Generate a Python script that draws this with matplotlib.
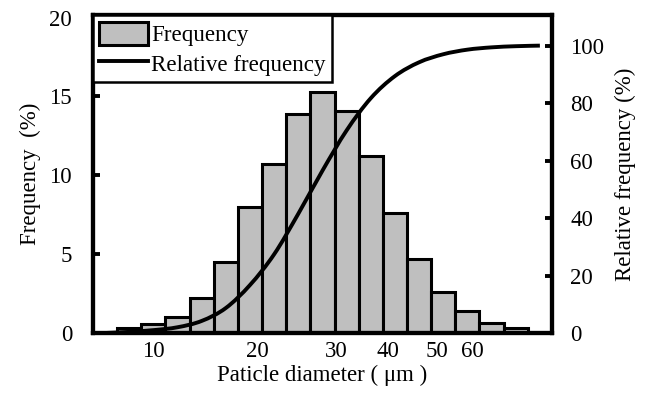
import numpy as np
import matplotlib
matplotlib.use('Agg')
import matplotlib.pyplot as plt
from matplotlib.patches import Patch, PathPatch
from matplotlib.path import Path
from matplotlib.lines import Line2D

# size classes (one bar each)
frequency = [0.0, 0.3, 0.55, 1.0, 2.2, 4.5, 8.0, 10.7, 13.9, 15.3, 14.1,
             11.2, 7.6, 4.7, 2.6, 1.4, 0.65, 0.3, 0.0]
relative_frequency = [0.0, 0.4, 1.0, 2.0, 4.2, 8.7, 16.7, 27.4, 41.5, 56.5,
                      70.5, 81.7, 89.4, 94.2, 97.0, 98.6, 99.4, 99.8, 100.0]
tick_labels = ['10', '20', '30', '40', '50', '60']
tick_pos = [2.02, 6.32, 9.59, 11.69, 13.72, 15.2]

plt.rcParams['font.family'] = ['Liberation Serif', 'DejaVu Serif']


def smooth_path(xs, ys):
    # smoothed line like the spreadsheet one: bezier segments through the points
    pts = np.column_stack([xs, ys]).astype(float)
    verts = [pts[0]]
    codes = [Path.MOVETO]
    for i in range(len(pts) - 1):
        p0 = pts[max(i - 1, 0)]
        p1 = pts[i]
        p2 = pts[i + 1]
        p3 = pts[min(i + 2, len(pts) - 1)]
        verts += [p1 + (p2 - p0) / 6, p2 - (p3 - p1) / 6, p2]
        codes += [Path.CURVE4] * 3
    return Path(verts, codes)


fig = plt.figure(figsize=(6.47, 3.99), dpi=100)
ax = fig.add_axes([0.1437, 0.1654, 0.7094, 0.7966])
ax2 = ax.twinx()

x = np.arange(len(frequency))
ax.bar(x, frequency, width=1.0, color='#bfbfbf', edgecolor='black',
       linewidth=2.2, zorder=2)
ax2.add_patch(PathPatch(smooth_path(x, relative_frequency), fill=False,
                        edgecolor='black', linewidth=2.8, capstyle='butt',
                        zorder=3))

ax.set_xlim(-0.5, 18.5)
ax.set_ylim(0, 20.15)
ax2.set_ylim(0, 110.6)

ax.set_xticks(tick_pos)
ax.set_xticklabels(tick_labels)
ax.set_yticks([0, 5, 10, 15, 20])
ax2.set_yticks([0, 20, 40, 60, 80, 100])

ax.tick_params(axis='x', length=0, pad=6, labelsize=16.5)
ax.tick_params(axis='y', direction='in', length=5, width=2.8, pad=15,
               labelsize=16.5)
ax2.tick_params(axis='y', direction='in', length=5, width=2.8, pad=13,
                labelsize=16.5)

for a in (ax, ax2):
    for s in a.spines.values():
        s.set_linewidth(3.0)

ax.set_xlabel('Paticle diameter ( \u03bcm )', fontsize=16.5, labelpad=2)
ax.set_ylabel('Frequency  (%)', fontsize=16.5, labelpad=6)
ax2.set_ylabel('Relative frequency (%)', fontsize=16.5, labelpad=8)

handles = [Patch(facecolor='#bfbfbf', edgecolor='black', linewidth=2.2),
           Line2D([], [], color='black', linewidth=2.8)]
leg = ax2.legend(handles, ['Frequency', 'Relative frequency'],
                 loc='upper left', bbox_to_anchor=(0, 1), fontsize=16.6,
                 fancybox=False, framealpha=1, edgecolor='black',
                 borderpad=0.28, labelspacing=0.25, handlelength=2.1,
                 handleheight=1.15, handletextpad=0.15, borderaxespad=0)
leg.get_frame().set_linewidth(1.8)

fig.savefig('out.png', dpi=100)
